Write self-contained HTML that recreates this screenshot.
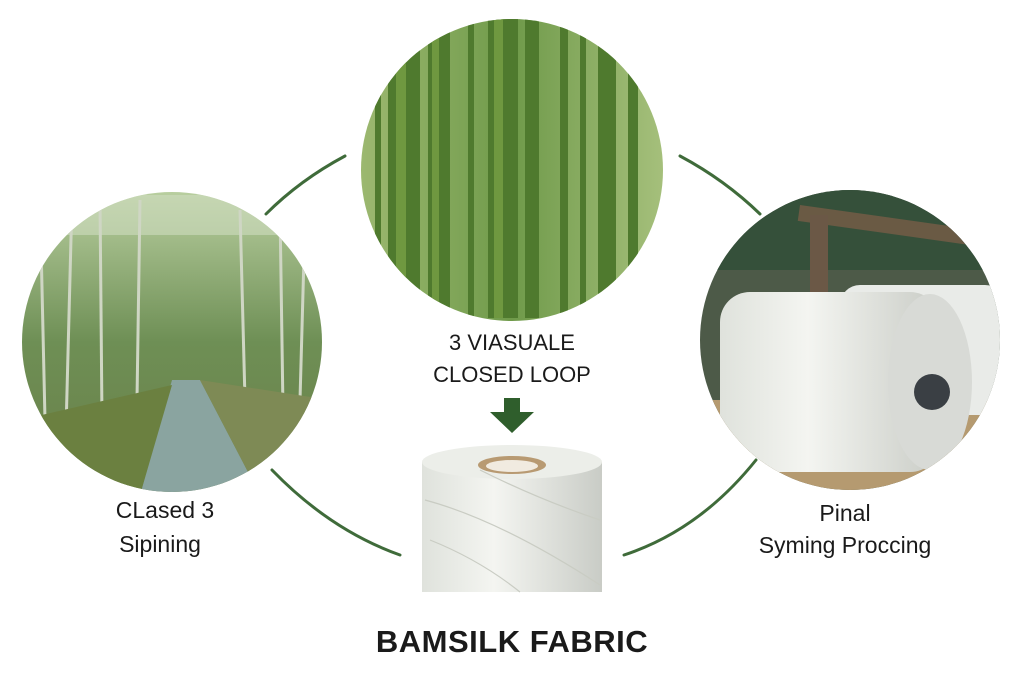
<!DOCTYPE html>
<html><head><meta charset="utf-8"><style>
html,body{margin:0;padding:0;background:#fff;width:1024px;height:683px;overflow:hidden;font-family:"Liberation Sans",sans-serif;}
.c{position:absolute;border-radius:50%;overflow:hidden;}
.t{position:absolute;color:#1a1a1a;text-align:center;white-space:nowrap;}
</style></head><body>
<svg width="1024" height="683" style="position:absolute;left:0;top:0">
<defs>
<clipPath id="ct"><circle cx="512" cy="170" r="151"/></clipPath>
<clipPath id="cl"><circle cx="172" cy="342" r="150"/></clipPath>
<clipPath id="cr"><circle cx="850" cy="340" r="150"/></clipPath>
<linearGradient id="gtop" x1="0" y1="0" x2="1" y2="0"><stop offset="0" stop-color="#9cb870"/><stop offset="0.5" stop-color="#6f9a4a"/><stop offset="1" stop-color="#a6c07c"/></linearGradient>
<linearGradient id="gleft" x1="0" y1="0" x2="0" y2="1"><stop offset="0" stop-color="#b9cfa0"/><stop offset="0.5" stop-color="#6e8f55"/><stop offset="1" stop-color="#6a7f48"/></linearGradient>
<linearGradient id="roll" x1="0" y1="0" x2="1" y2="0"><stop offset="0" stop-color="#dfe2dc"/><stop offset="0.4" stop-color="#f4f5f1"/><stop offset="1" stop-color="#c9ccc6"/></linearGradient>
</defs>
<g clip-path="url(#ct)">
<rect x="360" y="18" width="305" height="305" fill="url(#gtop)"/>
<g fill="#4f7a2e">
<rect x="388" y="18" width="32" height="300"/><rect x="428" y="18" width="22" height="300"/>
<rect x="488" y="18" width="30" height="300"/><rect x="525" y="18" width="14" height="300"/>
<rect x="560" y="18" width="8" height="300"/><rect x="598" y="18" width="18" height="300"/>
<rect x="628" y="18" width="10" height="300"/><rect x="468" y="18" width="6" height="300"/>
<rect x="375" y="18" width="6" height="300"/><rect x="580" y="18" width="6" height="300"/>
</g>
<g fill="#6f9840"><rect x="396" y="18" width="10" height="300"/><rect x="494" y="18" width="9" height="300"/><rect x="432" y="18" width="7" height="300"/></g>
</g>
<g clip-path="url(#cl)">
<rect x="20" y="190" width="305" height="305" fill="url(#gleft)"/>
<rect x="20" y="195" width="305" height="40" fill="#cfdcc0" opacity=".6"/>
<g stroke="#cfd6c4" stroke-width="3"><line x1="40" y1="200" x2="45" y2="420"/><line x1="72" y1="200" x2="66" y2="430"/><line x1="100" y1="200" x2="102" y2="420"/><line x1="140" y1="200" x2="137" y2="400"/><line x1="240" y1="210" x2="245" y2="400"/><line x1="280" y1="210" x2="283" y2="410"/><line x1="305" y1="220" x2="300" y2="400"/></g>
<polygon points="172,380 200,380 260,495 140,495" fill="#8aa4a0"/>
<polygon points="20,420 172,385 140,495 20,495" fill="#6b8040"/>
<polygon points="200,380 330,400 330,495 260,495" fill="#7e8a55"/>
</g>
<g clip-path="url(#cr)">
<rect x="698" y="188" width="305" height="305" fill="#4d5a48"/>
<rect x="698" y="190" width="305" height="80" fill="#35503a"/>
<rect x="800" y="205" width="200" height="16" fill="#6a5a44" transform="rotate(8 800 205)"/>
<rect x="810" y="215" width="18" height="90" fill="#6b5846"/>
<polygon points="698,400 1003,400 1003,495 698,495" fill="#b59a70"/>
<rect x="840" y="285" width="165" height="130" rx="20" fill="#e9ebe8"/>
<rect x="720" y="292" width="220" height="180" rx="30" fill="url(#roll)"/>
<ellipse cx="930" cy="382" rx="42" ry="88" fill="#d8dad6"/>
<circle cx="932" cy="392" r="18" fill="#3a3f44"/>
</g>
<g stroke="#3f6b3a" stroke-width="3" fill="none" stroke-linecap="round">
<path d="M266 214 Q300 180 345 156"/>
<path d="M680 156 Q725 180 760 214"/>
<path d="M272 470 Q330 530 400 555"/>
<path d="M624 555 Q700 530 756 460"/>
</g>
<polygon points="504,398 520,398 520,412 534,412 512,433 490,412 504,412" fill="#2f5e2c"/>
<rect x="422" y="462" width="180" height="130" fill="url(#roll)"/>
<ellipse cx="512" cy="462" rx="90" ry="17" fill="#eceee9"/>
<ellipse cx="512" cy="465" rx="34" ry="9" fill="#b89a72"/>
<ellipse cx="512" cy="466" rx="26" ry="6" fill="#f1ebe0"/>
<g stroke="#c9ccc3" stroke-width="1.2" fill="none"><path d="M425 500 Q500 520 600 585"/><path d="M430 540 Q480 560 520 592"/><path d="M480 470 Q540 500 600 520"/></g>
</svg>
<div class="t" style="left:412px;top:330px;width:200px;font-size:22px;">3 VIASUALE</div>
<div class="t" style="left:392px;top:362px;width:240px;font-size:22px;">CLOSED LOOP</div>
<div class="t" style="left:65px;top:497px;width:200px;font-size:23px;">CLased 3</div>
<div class="t" style="left:60px;top:531px;width:200px;font-size:23px;">Sipining</div>
<div class="t" style="left:745px;top:500px;width:200px;font-size:23px;">Pinal</div>
<div class="t" style="left:715px;top:532px;width:260px;font-size:23px;">Syming Proccing</div>
<div class="t" style="left:312px;top:624px;width:400px;font-size:31px;font-weight:bold;letter-spacing:0.5px;">BAMSILK FABRIC</div>
</body></html>
